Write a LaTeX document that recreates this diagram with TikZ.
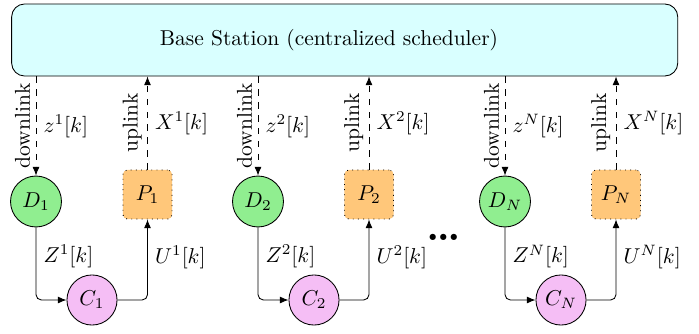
\documentclass[tikz,border=0pt]{standalone}
\usetikzlibrary{arrows.meta}
\definecolor{bsfill}{RGB}{217,255,255}
\definecolor{dfill}{RGB}{144,238,144}
\definecolor{pfill}{RGB}{255,199,122}
\definecolor{cfill}{RGB}{245,190,245}
\begin{document}
\begin{tikzpicture}[x=0.4651pt,y=-0.4651pt,
  bsbox/.style={draw, fill=bsfill, rounded corners=6pt, minimum width=309.8pt, minimum height=33.5pt, inner sep=0pt},
  dnode/.style={circle, draw, fill=dfill, minimum size=23.7pt, inner sep=0pt},
  pnode/.style={draw, dotted, fill=pfill, rounded corners=2pt, minimum size=22.8pt, inner sep=0pt},
  cnode/.style={circle, draw, fill=cfill, minimum size=23.3pt, inner sep=0pt},
  link/.style={dashed, -{Latex[length=4pt,width=3.2pt]}},
  flow/.style={rounded corners=2.5pt, -{Latex[length=4pt,width=3.2pt]}},
  vlab/.style={rotate=90, anchor=south, inner sep=2.5pt},
]
\useasboundingbox (0,0) rectangle (699,333);
\node[bsbox] (bs) at (344.7,40) {};
\node (bstext) at (329,40.5) {Base Station (centralized scheduler)};
% group 1
\node[dnode] (D1) at (36,201.5) {$D_1$};
\node[pnode] (P1) at (147.5,194.5) {$P_1$};
\node[cnode] (C1) at (92,300) {$C_1$};
% group 2
\node[dnode] (D2) at (258,201.5) {$D_2$};
\node[pnode] (P2) at (369,194.5) {$P_2$};
\node[cnode] (C2) at (314,300) {$C_2$};
% group N
\node[dnode] (DN) at (505,201.5) {$D_N$};
\node[pnode] (PN) at (616,194.5) {$P_N$};
\node[cnode] (CN) at (561,300) {$C_N$};
\node[inner sep=0pt, anchor=base] (dots) at (443.3,240) {\fontsize{20}{24}\selectfont\bfseries\ldots};
% links
\foreach \d/\p/\c/\i in {D1/P1/C1/1, D2/P2/C2/2, DN/PN/CN/N}{
  \draw[link] (bs.south -| \d) -- (\d.north)
     node[midway, vlab] {downlink}
     node[midway, right] {$z^{\i}[k]$};
  \draw[link] (\p.north) -- (bs.south -| \p)
     node[midway, vlab] {uplink}
     node[midway, right] {$X^{\i}[k]$};
  \draw[flow] (\d.south) |- (\c.west) node[pos=0.2, right] {$Z^{\i}[k]$};
  \draw[flow] (\c.east) -| (\p.south) node[pos=0.765, right] {$U^{\i}[k]$};
}
\end{tikzpicture}
\end{document}
